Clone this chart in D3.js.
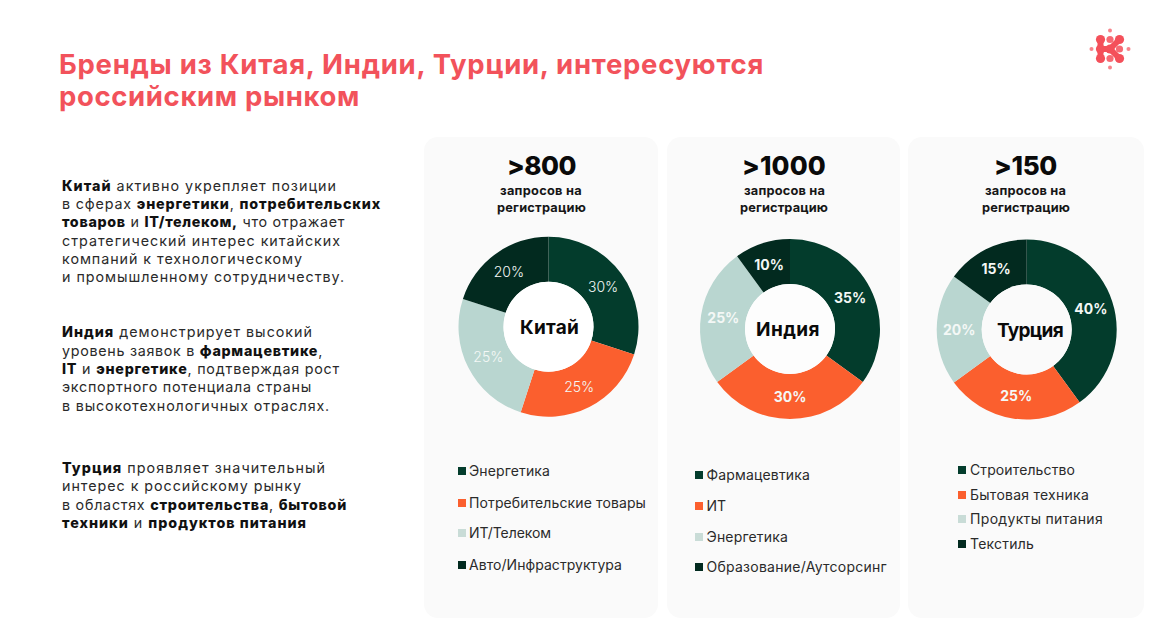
<!DOCTYPE html>
<html lang="ru"><head><meta charset="utf-8">
<script src="https://cdn.jsdelivr.net/npm/d3@7"></script>
<style>html,body{margin:0;padding:0;background:#fff;overflow:hidden}svg{display:block}text{font-family:Inter,"Noto Sans",sans-serif}</style>
</head><body><svg id="c" width="1164" height="622"></svg>
<script>
// ---- data ----
const titleLines = ["Бренды из Китая, Индии, Турции, интересуются","российским рынком"];
const countries = ["Китай","Индия","Турция"];
const totals = [">800",">1000",">150"];
const subLines = ["запросов на","регистрацию"];
const chinaLabels = ["Энергетика","Потребительские товары","ИТ/Телеком","Авто/Инфраструктура"];
const chinaValues = [30,25,25,20];
const indiaLabels = ["Фармацевтика","ИТ","Энергетика","Образование/Аутсорсинг"];
const indiaValues = [35,30,25,10];
const turkeyLabels = ["Строительство","Бытовая техника","Продукты питания","Текстиль"];
const turkeyValues = [40,25,20,15];
const chinaText = [
 [["Китай",1],[" активно укрепляет позиции",0]],
 [["в сферах ",0],["энергетики",1],[", ",0],["потребительских",1]],
 [["товаров",1],[" и ",0],["IT/телеком,",1],[" что отражает",0]],
 [["стратегический интерес китайских",0]],
 [["компаний к технологическому",0]],
 [["и промышленному сотрудничеству.",0]]];
const indiaText = [
 [["Индия",1],[" демонстрирует высокий",0]],
 [["уровень заявок в ",0],["фармацевтике",1],[",",0]],
 [["IT",1],[" и ",0],["энергетике",1],[", подтверждая рост",0]],
 [["экспортного потенциала страны",0]],
 [["в высокотехнологичных отраслях.",0]]];
const turkeyText = [
 [["Турция",1],[" проявляет значительный",0]],
 [["интерес к российскому рынку",0]],
 [["в областях ",0],["строительства",1],[", ",0],["бытовой",1]],
 [["техники",1],[" и ",0],["продуктов питания",1]]];

// ---- layout ----
const svg = d3.select("#c");
const colors = ["#033c2c","#fb5f2e","#b9d6d0","#022a1f"];
const legendColors = ["#033c2c","#fb5f2e","#c9dcd7","#022a1f"];
const cards = [
 {x:424,w:234,cx:548.5,cy:326.7,vals:chinaValues,labs:chinaLabels,pw:300,hole:"#ffffff",
  tot:[507,576],sub:[[500,582],[497,586]],name:[520,579],nameY:334,
  sq:458,tx:469,ly:[471,503,533,565],lr:[550,646,551,622]},
 {x:667,w:233,cx:790,cy:329,vals:indiaValues,labs:indiaLabels,pw:700,hole:"#fdfdfd",
  tot:[742,826],sub:[[744,825],[740,828]],name:[756,820],nameY:336,
  sq:695,tx:706.5,ly:[475,506,537,567],lr:[810,726,788,887]},
 {x:908,w:236,cx:1026.7,cy:329.5,vals:turkeyValues,labs:turkeyLabels,pw:700,hole:"#fafafa",
  tot:[994,1057],sub:[[985,1066],[982,1070]],name:[997,1063],nameY:337,
  sq:958,tx:970,ly:[470,495,519,544],lr:[1075,1089,1103,1034]}];

function fit(t,x0,x1){
  t.attr("x",x0);
  const n=t.text().length, w=t.node().getComputedTextLength();
  t.style("letter-spacing",((x1-x0-w)/Math.max(1,n))+"px");
}
function runs(y,line,x1,color){
  const t=svg.append("text").attr("y",y).attr("x",62).attr("fill",color).style("font-size","14.3px");
  line.forEach(r=>t.append("tspan").text(r[0]).attr("font-weight",r[1]?800:400).attr("fill",r[1]?"#111":color).style("white-space","pre"));
  t.style("white-space","pre");
  fit(t,62,x1);
}

// title
[[74,764],[106,360]].forEach((p,i)=>{
  const t=svg.append("text").attr("y",p[0]).attr("fill","#f2525b").attr("font-weight",700).style("font-size","27.5px").text(titleLines[i]);
  fit(t,59,p[1]);
});

// body
[[chinaText,[191,209,227,246,264,282],[337,381,345,341,303,345]],
 [indiaText,[337,356,374,392,411],[313,323,340,312,330]],
 [turkeyText,[473,491,510,528],[326,302,347,307]]].forEach(b=>{
  b[0].forEach((l,i)=>runs(b[1][i],l,b[2][i],"#2a2a2a"));
});

// logo
const lg=svg.append("g").attr("transform","translate(1110,49)").attr("fill","#f4505a");
const u=9.5;
[[[-u,-u],[-u,u]],[[0,0],[u,-u]],[[0,0],[u,u]],[[-u,0],[0,0]]].forEach(p=>{
  lg.append("line").attr("x1",p[0][0]).attr("y1",p[0][1]).attr("x2",p[1][0]).attr("y2",p[1][1]).attr("stroke","#f4505a").attr("stroke-width",6);
});
[[-u,-u,4.6,1],[u,-u,4.6,1],[-u,0,4.6,1],[-u,u,4.6,1],[u,u,4.6,1],[0,0,4.6,1],
 [0,-u,3.6,.85],[0,u,3.6,.85],[u,0,3.6,.85],[0,-18.5,2,.7],[0,18.5,2,.7],[-18.5,0,2,.7],[18.5,0,2,.7]].forEach(d=>{
  lg.append("circle").attr("cx",d[0]).attr("cy",d[1]).attr("r",d[2]).attr("opacity",d[3]);
});

// cards
const pie=d3.pie().sort(null).value(d=>d);
const arc=d3.arc().innerRadius(45).outerRadius(90);
cards.forEach((c,i)=>{
  svg.append("rect").attr("x",c.x).attr("y",137).attr("width",c.w).attr("height",481).attr("rx",14).attr("fill","#fafafa");
  const tt=svg.append("text").attr("y",175).attr("fill","#0a0a0a").attr("font-weight",800).style("font-size","26px").text(totals[i]);
  fit(tt,c.tot[0],c.tot[1]);
  [195,212].forEach((y,j)=>{
    const s=svg.append("text").attr("y",y).attr("fill","#161616").attr("font-weight",700).style("font-size","12.8px").text(subLines[j]);
    fit(s,c.sub[j][0],c.sub[j][1]);
  });
  const g=svg.append("g").attr("transform",`translate(${c.cx},${c.cy})`);
  g.selectAll("path").data(pie(c.vals)).join("path").attr("d",arc).attr("fill",(d,k)=>colors[k]);
  g.append("circle").attr("r",45).attr("fill",c.hole);
  g.selectAll("text").data(pie(c.vals)).join("text")
    .attr("transform",d=>`translate(${arc.centroid(d)})`)
    .attr("text-anchor","middle").attr("dy","0.36em")
    .attr("fill","#f4f8f6").attr("font-weight",c.pw).style("font-size","14px")
    .text(d=>d.data+"%");
  const n=svg.append("text").attr("y",c.nameY).attr("fill","#0a0a0a").attr("font-weight",700).style("font-size","19px").text(countries[i]);
  fit(n,c.name[0],c.name[1]);
  c.labs.forEach((l,k)=>{
    svg.append("rect").attr("x",c.sq).attr("y",c.ly[k]-4).attr("width",8).attr("height",8).attr("fill",legendColors[k]);
    const t=svg.append("text").attr("y",c.ly[k]+4.7).attr("fill","#2a2a2a").attr("font-weight",400).style("font-size","14px").text(l);
    fit(t,c.tx,c.lr[k]);
  });
});
</script></body></html>
